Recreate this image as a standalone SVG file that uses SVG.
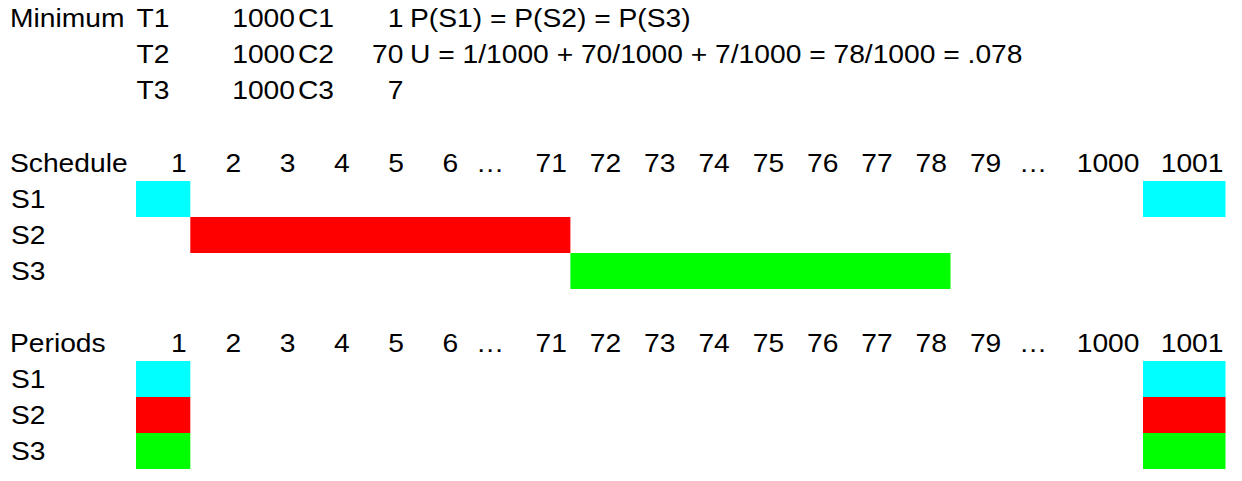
<svg xmlns="http://www.w3.org/2000/svg" width="1242" height="481" viewBox="0 0 1242 481">
<style>
text{font-family:"Liberation Sans",Arial,sans-serif;font-size:26.5px;fill:#000}
.r{text-anchor:end}
.m{text-anchor:middle}
.c{fill:#00FFFF}
.rd{fill:#FF0000}
.g{fill:#00FF00}
</style>
<rect width="1242" height="481" fill="#fff"/>
<g id="params" transform="scale(1.065 1)">
<text x="9.39" y="27.5">Minimum</text>
<text x="128.17" y="27.5">T1</text>
<text x="128.17" y="63.5">T2</text>
<text x="128.17" y="99.5">T3</text>
<text class="r" x="277" y="27.5">1000</text>
<text class="r" x="277" y="63.5">1000</text>
<text class="r" x="277" y="99.5">1000</text>
<text x="279.81" y="27.5">C1</text>
<text x="279.81" y="63.5">C2</text>
<text x="279.81" y="99.5">C3</text>
<text class="r" x="378.87" y="27.5">1</text>
<text class="r" x="378.87" y="63.5">70</text>
<text class="r" x="378.87" y="99.5">7</text>
<text x="384.98" y="27.5">P(S1) = P(S2) = P(S3)</text>
<text x="384.98" y="63.5">U = 1/1000 + 70/1000 + 7/1000 = 78/1000 = .078</text>
</g>
<g id="schedule">
<g id="schedule-labels" transform="scale(1.065 1)">
<text x="9.39" y="172.5">Schedule</text>
<text x="10.33" y="208.5">S1</text>
<text x="10.33" y="244.5">S2</text>
<text x="10.33" y="280.5">S3</text>
<text class="r" x="175.4" y="172.5">1</text>
<text class="r" x="226.38" y="172.5">2</text>
<text class="r" x="277.37" y="172.5">3</text>
<text class="r" x="328.36" y="172.5">4</text>
<text class="r" x="379.34" y="172.5">5</text>
<text class="r" x="430.33" y="172.5">6</text>
<text class="m" x="460.09" y="172.5">…</text>
<text class="r" x="532.3" y="172.5">71</text>
<text class="r" x="583.29" y="172.5">72</text>
<text class="r" x="634.27" y="172.5">73</text>
<text class="r" x="685.26" y="172.5">74</text>
<text class="r" x="736.24" y="172.5">75</text>
<text class="r" x="787.23" y="172.5">76</text>
<text class="r" x="838.22" y="172.5">77</text>
<text class="r" x="889.2" y="172.5">78</text>
<text class="r" x="940.19" y="172.5">79</text>
<text class="m" x="969.95" y="172.5">…</text>
<text class="r" x="1069.95" y="172.5">1000</text>
<text class="r" x="1148.8" y="172.5">1001</text>
</g>
<rect id="s1-run1" class="c" x="136" y="181" width="54.3" height="36"/>
<rect id="s2-run" class="rd" x="190.3" y="217" width="380.1" height="36"/>
<rect id="s3-run" class="g" x="570.4" y="253" width="380.1" height="36"/>
<rect id="s1-run2" class="c" x="1143" y="181" width="82.5" height="36"/>
</g>
<g id="periods">
<g id="periods-labels" transform="scale(1.065 1)">
<text x="9.39" y="352.5">Periods</text>
<text x="10.33" y="388.5">S1</text>
<text x="10.33" y="424.5">S2</text>
<text x="10.33" y="460.5">S3</text>
<text class="r" x="175.4" y="352.5">1</text>
<text class="r" x="226.38" y="352.5">2</text>
<text class="r" x="277.37" y="352.5">3</text>
<text class="r" x="328.36" y="352.5">4</text>
<text class="r" x="379.34" y="352.5">5</text>
<text class="r" x="430.33" y="352.5">6</text>
<text class="m" x="460.09" y="352.5">…</text>
<text class="r" x="532.3" y="352.5">71</text>
<text class="r" x="583.29" y="352.5">72</text>
<text class="r" x="634.27" y="352.5">73</text>
<text class="r" x="685.26" y="352.5">74</text>
<text class="r" x="736.24" y="352.5">75</text>
<text class="r" x="787.23" y="352.5">76</text>
<text class="r" x="838.22" y="352.5">77</text>
<text class="r" x="889.2" y="352.5">78</text>
<text class="r" x="940.19" y="352.5">79</text>
<text class="m" x="969.95" y="352.5">…</text>
<text class="r" x="1069.95" y="352.5">1000</text>
<text class="r" x="1148.8" y="352.5">1001</text>
</g>
<rect id="p1-s1" class="c" x="136" y="361" width="54.3" height="36"/>
<rect id="p1-s2" class="rd" x="136" y="397" width="54.3" height="36"/>
<rect id="p1-s3" class="g" x="136" y="433" width="54.3" height="36"/>
<rect id="p1001-s1" class="c" x="1143" y="361" width="82.5" height="36"/>
<rect id="p1001-s2" class="rd" x="1143" y="397" width="82.5" height="36"/>
<rect id="p1001-s3" class="g" x="1143" y="433" width="82.5" height="36"/>
</g>
</svg>
